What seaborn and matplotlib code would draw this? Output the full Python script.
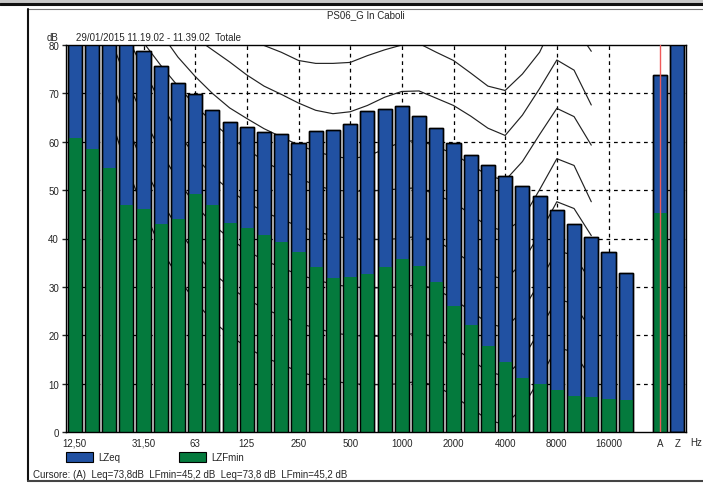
import numpy as np
import pandas as pd
import matplotlib
matplotlib.use("Agg")
import matplotlib.pyplot as plt
import seaborn as sns
from matplotlib.patches import Rectangle
from matplotlib.lines import Line2D

# third-octave bands 12.5 Hz .. 20 kHz
bands = ["12.5", "16", "20", "25", "31.5", "40", "50", "63", "80", "100", "125",
         "160", "200", "250", "315", "400", "500", "630", "800", "1000", "1250",
         "1600", "2000", "2500", "3150", "4000", "5000", "6300", "8000", "10000",
         "12500", "16000", "20000"]
lzeq = [85.0, 83.5, 82.0, 80.8, 78.8, 75.6, 72.1, 69.8, 66.5, 64.1, 63.1,
        62.0, 61.5, 59.8, 62.3, 62.5, 63.6, 66.3, 66.8, 67.3, 65.4,
        62.8, 59.8, 57.2, 55.1, 52.9, 50.8, 48.7, 45.8, 43.1,
        40.4, 37.3, 32.9]
lzfmin = [60.8, 58.4, 54.6, 46.9, 46.2, 42.9, 44.0, 49.3, 46.9, 43.2, 42.1,
          40.8, 39.2, 37.3, 34.1, 31.8, 32.0, 32.6, 34.2, 35.8, 34.4,
          31.0, 26.1, 22.2, 17.7, 14.4, 11.1, 9.9, 8.6, 7.5,
          7.3, 6.8, 6.7]

totals = ["A", "Z"]
totals_lzeq = [73.8, 86.0]
totals_lzfmin = [45.2, np.nan]

# equal loudness curves, 20 Hz .. 12.5 kHz
curve_bands = bands[2:31]
curve_80 = [110, 104, 99, 95, 91, 88, 85, 83, 81.5, 79.9, 78.5, 76.8, 76.2, 76.2, 76.4,
            77.8, 79.0, 80.0, 80.3, 78.5, 76.8, 74.2, 71.5, 70.6, 74.0, 78.5, 86.0, 84.0, 78.7]
curve_70 = [105, 98, 93, 88, 84, 81.5, 79, 76.5, 73.8, 71.5, 69.8, 68.0, 66.5, 65.8, 66.2,
            67.5, 69.2, 70.4, 70.5, 69.0, 67.5, 65.3, 62.8, 61.3, 65.5, 71.0, 76.9, 74.8, 67.6]
curve_60 = [100, 94, 88, 82.5, 77.5, 73.5, 70, 67, 64.8, 62.7, 61, 59.3, 58, 57, 56.5,
            57, 58.5, 60, 60.3, 59, 57.5, 55.3, 53, 52, 55.9, 61.5, 66.9, 65.2, 59.3]
curve_50 = [92, 86, 80.5, 75.8, 71.5, 67.5, 64, 61, 58.5, 56, 54, 52.5, 51, 50, 49.8,
            49.8, 50, 50.3, 50.5, 49, 47.5, 45, 42.5, 41.5, 44, 50.1, 56.5, 55.1, 47.6]
curve_40 = [90, 82, 75, 68, 62, 57, 53, 50, 47.5, 45.5, 44, 42.5, 41.5, 40.5, 40,
            39.8, 39.8, 40, 40.5, 39.5, 37.5, 35, 32.5, 31.5, 35, 41, 47.6, 46.2, 40.6]
curve_30 = [82, 73, 65, 58, 52, 47, 43, 40, 37.5, 35.5, 34, 32.5, 31.5, 30.5, 30,
            29.8, 29.8, 30, 30.5, 29.5, 27.5, 25, 22.5, 21.5, 25, 31, 37.5, 36.5, 31]
curve_20 = [74, 64, 55, 48, 42, 37, 33, 30, 27.5, 25.5, 24, 22.5, 21.5, 20.5, 20,
            19.8, 19.8, 20, 20.5, 19.5, 17.5, 15, 12.5, 11.5, 15, 21, 27.5, 26.5, 21]
curve_10 = [66, 55, 46, 38, 32, 27, 23, 20, 17.5, 15.5, 14, 12.5, 11.5, 10.5, 10,
            9.8, 9.8, 10, 10.5, 9.5, 7.5, 5, 2.5, 1.5, 5, 11, 17.5, 16.5, 11]
curves = [curve_80, curve_70, curve_60, curve_50, curve_40, curve_30, curve_20, curve_10]

tick_bands = ["12.5", "31.5", "63", "125", "250", "500", "1000", "2000", "4000",
              "8000", "16000", "A", "Z"]
tick_text = ["12,50", "31,50", "63", "125", "250", "500", "1000", "2000", "4000",
             "8000", "16000", "A", "Z"]

blue = "#2151a2"
green = "#047a3d"
fs = 7

order = bands + [" "] + totals
df = pd.DataFrame({
    "band": bands + totals,
    "LZeq": lzeq + totals_lzeq,
    "LZFmin": lzfmin + totals_lzfmin,
})

sns.set_style("white")
plt.rcParams["font.family"] = ["Liberation Sans", "DejaVu Sans"]
plt.rcParams["font.size"] = fs

W, H = 703, 485
fig = plt.figure(figsize=(W / 100, H / 100), dpi=100)
ax = fig.add_axes([66 / W, 1 - 433 / H, (686 - 66) / W, (433 - 46) / H])

# dashed grid behind everything
grid_pos = [order.index(b) for b in tick_bands[:-2]]
for g in grid_pos:
    ax.axvline(g, color="black", lw=0.9, ls=(0, (3, 3)), zorder=0.5)
for v in range(10, 80, 10):
    ax.axhline(v, color="black", lw=0.9, ls=(0, (3, 3)), zorder=0.5)

# loudness curves
cx = [order.index(b) for b in curve_bands]
for c in curves:
    ax.plot(cx, c, color="#222222", lw=0.85, zorder=1)

sns.barplot(data=df, x="band", y="LZeq", order=order, color=blue, saturation=1,
            width=0.82, edgecolor="black", linewidth=1, ax=ax, zorder=2)
sns.barplot(data=df, x="band", y="LZFmin", order=order, color=green, saturation=1,
            width=0.82, linewidth=0, ax=ax, zorder=3)
sns.barplot(data=df, x="band", y="LZeq", order=order, fill=False,
            width=0.82, edgecolor="black", linewidth=1, ax=ax, zorder=4)

ax.axvline(order.index("A"), color="#f05a5a", lw=1, zorder=5)

ax.set_xlim(-0.5, len(order) - 0.5)
ax.set_ylim(0, 80)
ax.set_yticks(range(0, 81, 10))
ax.set_xticks([order.index(b) for b in tick_bands])
ax.set_xticklabels(tick_text)
ax.tick_params(axis="x", length=0, pad=4, labelsize=fs)
ax.tick_params(axis="y", length=3, width=1, direction="out", pad=2, labelsize=fs, left=True)
ax.set_xlabel("")
ax.set_ylabel("")
for s in ax.spines.values():
    s.set_visible(True)
    s.set_color("black")
    s.set_linewidth(1)

# texts
fig.text(366 / W, 1 - 15 / H, "PS06_G In Caboli", ha="center", va="center", fontsize=fs)
fig.text(47 / W, 1 - 38 / H, "dB", ha="left", va="center", fontsize=fs)
fig.text(76 / W, 1 - 38 / H, "29/01/2015 11.19.02 - 11.39.02  Totale", ha="left",
         va="center", fontsize=fs)
fig.text(690 / W, 1 - 443 / H, "Hz", ha="left", va="center", fontsize=fs)

# legend
for x0, col, lab in [(66, blue, "LZeq"), (179, green, "LZFmin")]:
    fig.add_artist(Rectangle((x0 / W, 1 - 463 / H), 27 / W, 10 / H, transform=fig.transFigure,
                             facecolor=col, edgecolor="black", lw=0.8))
    fig.text((x0 + 32) / W, 1 - 458 / H, lab, ha="left", va="center", fontsize=fs)

fig.text(33 / W, 1 - 475 / H,
         "Cursore: (A)  Leq=73,8dB  LFmin=45,2 dB  Leq=73,8 dB  LFmin=45,2 dB",
         ha="left", va="center", fontsize=fs)

# window frame
fig.add_artist(Rectangle((0, 1 - 3.5 / H), 1, 3.5 / H, transform=fig.transFigure,
                         facecolor="#c8c8c8", edgecolor="none"))
fig.add_artist(Line2D([0, 1], [1 - 5 / H, 1 - 5 / H], color="#111111", lw=2.2))
fig.add_artist(Line2D([28 / W, 1], [1 - 9.5 / H, 1 - 9.5 / H], color="#777777", lw=0.8))
fig.add_artist(Line2D([28 / W, 28 / W], [1 - 482 / H, 1 - 9.5 / H], color="#111111", lw=1.5))
fig.add_artist(Line2D([28 / W, 1], [1 - 482 / H, 1 - 482 / H], color="#444444", lw=1.5))

fig.savefig("out.png", dpi=100)
